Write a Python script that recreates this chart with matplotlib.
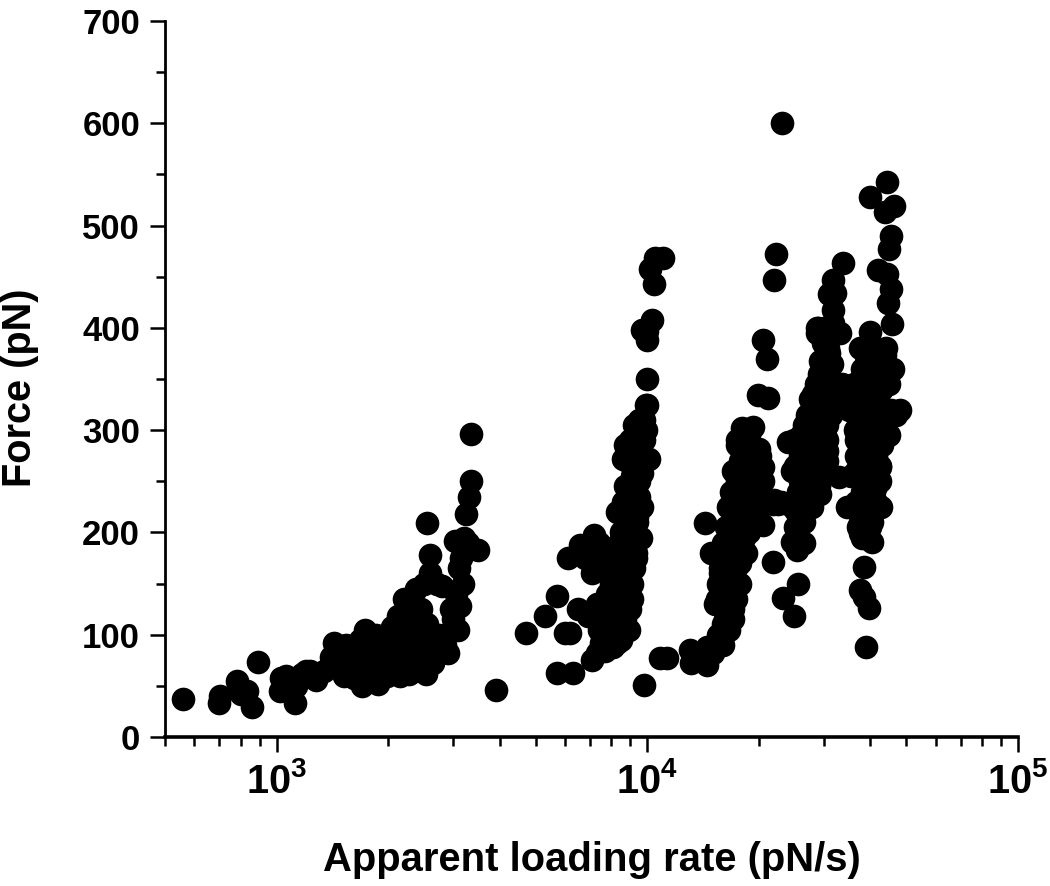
import matplotlib
matplotlib.use("Agg")
import matplotlib.pyplot as plt
from matplotlib.ticker import LogLocator, MultipleLocator, FixedFormatter, FixedLocator, NullFormatter

plt.rcParams['font.family'] = ['Liberation Sans', 'DejaVu Sans']
plt.rcParams['font.weight'] = 'bold'
plt.rcParams['mathtext.fontset'] = 'custom'
plt.rcParams['mathtext.bf'] = 'Liberation Sans:bold'
plt.rcParams['mathtext.rm'] = 'Liberation Sans:bold'

# slowest group, lower left
rate_a = [560, 700, 705, 780, 800, 830, 860, 890, 1020, 1030, 1045, 1060, 1080, 1100, 1120, 1130, 1170, 1200, 1230, 1280,
          1340, 1400, 1430, 1450, 1480, 1500, 1520, 1540, 1560, 1600, 1620, 1640, 1680, 1700, 1720, 1730, 1750, 1780, 1800, 1830,
          1850, 1880, 1900, 1930, 1950, 1980, 2000, 2050, 2080, 2100, 2130, 2170, 2200, 2230, 2280, 2300, 2350, 2380, 2400, 2430,
          2450, 2500, 2530, 2550, 2580, 2600, 2650, 2700, 2750, 2800, 2850, 2900, 2950, 3000, 3020, 3050, 3080, 3100, 3130, 3150,
          3180, 3200, 3220, 3250, 3280, 3300, 3350, 3350, 3500, 3900, 2550, 2600, 1600, 1750, 1900, 2050, 2250, 2350, 1500, 1650,
          1800, 1950, 2100, 2200, 2400, 2500, 2650, 2250, 2300, 2500, 2700, 2850, 2000, 2150, 1700]
force_a = [37, 33, 40, 55, 42, 45, 29, 73, 45, 58, 50, 60, 48, 52, 33, 50, 62, 65, 65, 56,
           65, 78, 92, 68, 82, 75, 60, 90, 66, 85, 58, 72, 95, 50, 80, 105, 62, 92, 56, 75,
           100, 52, 85, 68, 95, 60, 78, 108, 66, 88, 118, 72, 135, 95, 62, 112, 80, 145, 100, 68,
           125, 150, 62, 110, 85, 160, 72, 150, 100, 148, 90, 82, 125, 115, 192, 140, 105, 165, 128, 175,
           150, 195, 185, 218, 190, 235, 250, 296, 183, 46, 209, 178, 60, 70, 80, 90, 100, 88, 72, 88,
           66, 72, 100, 82, 90, 76, 95, 125, 78, 100, 85, 100, 90, 60, 70]

# second group around 10^4
rate_b = [4700, 5300, 5700, 5700, 6000, 6200, 6300, 6100, 6600, 7200, 7500, 6500, 6900, 7100, 7300, 7500, 7700, 7400, 7600, 7900,
          8100, 8300, 8500, 7000, 7300, 7700, 8000, 8200, 8500, 8700, 8900, 7800, 8000, 8300, 8600, 8800, 9000, 9100, 8200, 8400,
          8700, 8900, 9100, 9300, 8400, 8600, 8800, 9000, 9200, 8500, 8800, 9000, 9200, 8300, 8600, 8900, 9100, 9300, 8700, 9000,
          9200, 9400, 8800, 9100, 9300, 9500, 8700, 9000, 9300, 9500, 9700, 8600, 9000, 9400, 9800, 10000, 9200, 9500, 9900, 10000,
          10300, 10000, 9700, 10000, 10400, 10500, 10200, 11000, 8000, 7900, 8100, 6800, 7100, 7400, 7700, 8000, 9700, 9600, 9400, 9700,
          9300, 8900, 8700, 8550, 8400, 9800, 9800, 9500, 9900, 10100]
force_b = [102, 118, 138, 63, 102, 102, 63, 175, 188, 197, 187, 125, 118, 75, 82, 92, 84, 105, 98, 96,
           88, 92, 95, 120, 130, 115, 105, 125, 100, 115, 105, 140, 150, 135, 120, 135, 125, 150, 160, 175,
           145, 165, 135, 175, 190, 175, 155, 180, 165, 200, 210, 195, 180, 220, 230, 215, 205, 195, 245, 235,
           220, 215, 270, 255, 245, 235, 285, 275, 265, 250, 275, 272, 290, 300, 310, 325, 305, 295, 325, 350,
           408, 388, 398, 397, 443, 468, 458, 468, 165, 180, 155, 175, 160, 190, 170, 145, 225, 195, 210, 258,
           180, 160, 140, 127, 100, 270, 290, 310, 300, 272]

# third group, left part of the pair of bands
rate_c = [9800, 10800, 11300, 13000, 13100, 13700, 14500, 14500, 15000, 15200, 15800, 14300, 14900, 15200, 15500, 15900, 16200, 16600, 15300, 15700,
          16000, 16400, 16700, 17000, 15400, 15900, 16200, 16600, 17000, 17400, 15700, 16100, 16500, 17000, 17300, 17700, 16000, 16500, 17000, 17400,
          17800, 18200, 16300, 16800, 17200, 17600, 18000, 18400, 16500, 17000, 17500, 18000, 18500, 19000, 16800, 17300, 17800, 18300, 18800, 19200,
          17000, 17500, 18000, 18500, 19000, 19500, 17500, 17800, 18400, 19000, 19500, 20000, 17500, 18200, 18800, 19400, 20000, 20500, 18000, 18800,
          19300, 20200, 18500, 19300, 21000, 21800, 22000, 22500, 23000, 24000, 19900, 21200, 20500, 21000, 22000, 22300, 23100, 21800, 23300, 24800, 25500, 20500,
          20500, 17000, 18500, 18800, 19500, 16200, 15500, 16000, 20000, 17800]
force_c = [51, 77, 77, 85, 72, 80, 70, 88, 82, 90, 92, 209, 180, 130, 100, 95, 115, 105, 178, 160,
           110, 130, 120, 115, 135, 150, 140, 155, 125, 135, 165, 170, 160, 145, 165, 150, 190, 175, 165, 185,
           170, 195, 205, 195, 180, 210, 190, 205, 225, 215, 200, 220, 210, 225, 240, 230, 250, 240, 220, 235,
           260, 250, 265, 245, 255, 270, 285, 270, 260, 285, 245, 260, 290, 285, 295, 280, 282, 264, 302, 300,
           303, 275, 260, 240, 230, 228, 232, 228, 230, 228, 334, 331, 388, 370, 447, 472, 600, 171, 136, 118, 150, 250,
           207, 200, 180, 200, 215, 175, 150, 90, 225, 150]

# fourth group, middle band
rate_d = [24000, 24500, 25000, 25300, 24600, 26500, 25000, 25500, 26000, 26500, 27000, 25000, 25800, 26500, 27200, 27800, 24800, 25800, 26500, 27200,
          28000, 26000, 26800, 27500, 28200, 29000, 26500, 27200, 28000, 28700, 29300, 27000, 27800, 28500, 29300, 30000, 27500, 28300, 29000, 29800,
          30500, 28000, 28800, 29500, 30200, 30500, 28500, 29200, 30000, 30600, 30500, 29000, 29800, 30500, 31300, 32500, 29300, 30000, 30800, 31500,
          32200, 29800, 30500, 31200, 32000, 30000, 30800, 31500, 28700, 30300, 31000, 33000, 31700, 28900, 32000, 31700, 31000, 31700, 33700, 33500,
          32800, 30300, 28400, 29800, 30100, 28700]
force_d = [288, 260, 205, 183, 191, 190, 222, 240, 225, 210, 235, 265, 250, 235, 245, 225, 290, 275, 260, 250,
           238, 295, 285, 270, 260, 245, 305, 290, 280, 265, 238, 315, 300, 290, 275, 260, 330, 315, 300, 285,
           270, 335, 320, 310, 295, 280, 345, 330, 320, 305, 290, 355, 340, 330, 315, 345, 368, 350, 340, 325,
           335, 385, 365, 350, 335, 400, 380, 365, 395, 390, 375, 395, 405, 400, 434, 447, 433, 417, 463, 345,
           254, 258, 336, 370, 354, 400]

# fifth group, rightmost band
rate_e = [44200, 40000, 46200, 43700, 45500, 45000, 44200, 41900, 45500, 44700, 45800, 39900, 43700, 39000, 48000, 47000, 40400, 37400, 38400, 37500,
          38500, 39700, 39000, 36300, 36500, 36300, 37000, 38000, 39000, 40000, 41000, 42000, 43000, 44000, 34500, 35500, 36500, 37500, 38500, 39500,
          40500, 41500, 42500, 41500, 45000, 36300, 37000, 38000, 39000, 40000, 41000, 42000, 43000, 44200, 45000, 46000, 36500, 37500, 38500, 39500,
          40500, 41500, 42800, 40800, 41000, 45500, 37500, 38000, 39000, 40000, 41000, 42000, 43000, 44000, 37000, 38000, 39000, 39500, 40000, 42500,
          38500, 39500, 40500, 41500, 42500, 37500, 39000, 40000, 41000, 42000, 43000, 38000, 40000, 41500, 43000, 36000, 35000, 36500, 38000, 39000,
          37500, 38500, 40500, 40000, 38000, 38500, 37000, 41000, 42000, 37500]
force_e = [543, 528, 519, 513, 490, 477, 453, 457, 438, 424, 404, 396, 373, 372, 320, 315, 191, 199, 166, 144,
           137, 126, 88, 320, 290, 300, 290, 280, 300, 295, 310, 305, 285, 320, 225, 255, 275, 260, 250, 245,
           270, 260, 250, 245, 295, 335, 325, 340, 320, 330, 345, 330, 340, 346, 345, 360, 230, 225, 235, 225,
           240, 230, 225, 245, 240, 320, 349, 360, 350, 370, 360, 375, 365, 380, 205, 215, 210, 220, 205, 264,
           310, 280, 290, 275, 265, 380, 365, 385, 355, 340, 315, 195, 255, 300, 345, 345, 320, 260, 240, 240,
           210, 225, 210, 225, 300, 330, 310, 330, 290, 275]

major_x = [1e3, 1e4, 1e5]
major_x_labels = [r'$\mathbf{10^{3}}$', r'$\mathbf{10^{4}}$', r'$\mathbf{10^{5}}$']

fig = plt.figure(figsize=(10.5, 8.86), dpi=100)
ax = fig.add_axes([165 / 1050, 1 - 737 / 886, (1018 - 165) / 1050, (737 - 21) / 886])

for rate, force in [(rate_a, force_a), (rate_b, force_b), (rate_c, force_c), (rate_d, force_d), (rate_e, force_e)]:
    ax.scatter(rate, force, s=290, c='black', linewidths=0, clip_on=False, zorder=3)

ax.set_xscale('log')
ax.set_xlim(500, 1e5)
ax.set_ylim(0, 700)

ax.spines['top'].set_visible(False)
ax.spines['right'].set_visible(False)
ax.spines['left'].set_linewidth(2)
ax.spines['bottom'].set_linewidth(2.6)

ax.xaxis.set_major_locator(FixedLocator(major_x))
ax.xaxis.set_major_formatter(FixedFormatter(major_x_labels))
ax.xaxis.set_minor_locator(LogLocator(base=10, subs=range(2, 10), numticks=12))
ax.xaxis.set_minor_formatter(NullFormatter())
ax.yaxis.set_major_locator(MultipleLocator(100))
ax.yaxis.set_minor_locator(MultipleLocator(50))

ax.tick_params(axis='x', which='major', length=11, width=1.8, labelsize=28.5, pad=7)
ax.tick_params(axis='x', which='minor', length=6.5, width=1.8)
ax.tick_params(axis='y', which='major', length=11, width=1.8, labelsize=25, pad=7)
ax.tick_params(axis='y', which='minor', length=6.5, width=1.8)

fig.text(592 / 1050, 1 - 860 / 886, 'Apparent loading rate (pN/s)', ha='center', va='center', fontsize=28.8, fontweight='bold')
fig.text(20 / 1050, 1 - 388 / 886, 'Force (pN)', ha='center', va='center', rotation=90, fontsize=28.6, fontweight='bold')

fig.savefig('out.png', dpi=100)
